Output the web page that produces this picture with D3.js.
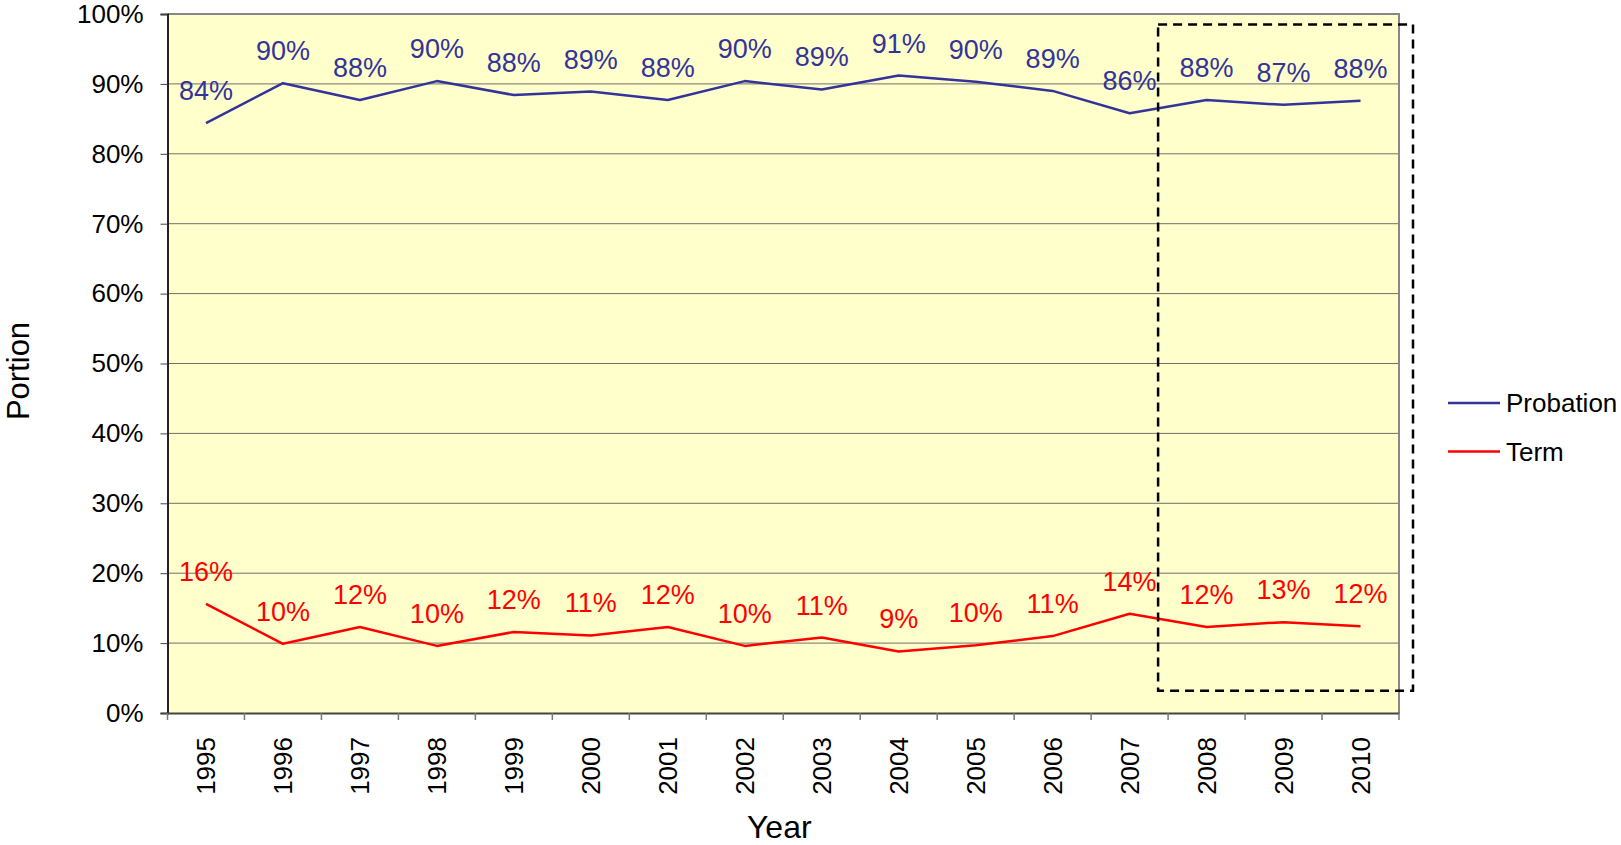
<!DOCTYPE html>
<html>
<head>
<meta charset="utf-8">
<script src="https://cdn.jsdelivr.net/npm/d3@7"></script>
<style>
  body { margin: 0; background: #fff; }
  svg text { font-family: "Liberation Sans", Arial, sans-serif; }
</style>
</head>
<body>
<svg id="chart" width="1621" height="845"></svg>
<script>
// values (percent)
var years = ['1995','1996','1997','1998','1999','2000','2001','2002','2003','2004','2005','2006','2007','2008','2009','2010']
var probation = [84.4, 90.1, 87.7, 90.4, 88.4, 88.9, 87.7, 90.4, 89.2, 91.2, 90.3, 89.0, 85.8, 87.7, 87.0, 87.6]
var term = [15.6, 9.9, 12.3, 9.6, 11.6, 11.1, 12.3, 9.6, 10.8, 8.8, 9.7, 11.0, 14.2, 12.3, 13.0, 12.4]
var yTicks = [0, 10, 20, 30, 40, 50, 60, 70, 80, 90, 100]
var seriesNames = ['Probation', 'Term']
var seriesColors = ['#333399', '#ff0000']

var margin = {left: 167.5, top: 14, right: 222, bottom: 132}
var width = 1621, height = 845

var svg = d3.select('#chart')

var x = d3.scaleBand().domain(years).range([margin.left, width - margin.right]).padding(0)
var y = d3.scaleLinear().domain([0, 100]).range([height - margin.bottom, margin.top])

// plot background
svg.append('rect')
  .attr('x', margin.left).attr('y', margin.top)
  .attr('width', width - margin.right - margin.left)
  .attr('height', height - margin.bottom - margin.top)
  .attr('fill', '#ffffcc')

// gridlines
svg.append('g').selectAll('line').data(yTicks.slice(1, -1)).join('line')
  .attr('x1', margin.left).attr('x2', width - margin.right)
  .attr('y1', function(d){ return y(d) }).attr('y2', function(d){ return y(d) })
  .attr('stroke', '#6f6f6f').attr('stroke-width', 1)

// plot border (top / right)
svg.append('path')
  .attr('d', 'M' + margin.left + ',' + y(100) + 'H' + (width - margin.right) + 'V' + y(0))
  .attr('fill', 'none').attr('stroke', '#888').attr('stroke-width', 2)

// y axis
var yAxis = svg.append('g').attr('transform', 'translate(' + margin.left + ',0)')
  .call(d3.axisLeft(y).tickValues(yTicks).tickSize(7).tickPadding(17).tickFormat(function(d){ return d + '%' }))
yAxis.select('.domain').attr('stroke', '#222').attr('stroke-width', 2)
yAxis.selectAll('.tick line').attr('stroke', '#444')
yAxis.selectAll('.tick text').attr('font-size', 26).attr('fill', '#000')
  .style('font-family', '"Liberation Sans", Arial, sans-serif')

// x axis labels
var xAxis = svg.append('g').attr('transform', 'translate(0,' + y(0) + ')')
  .call(d3.axisBottom(x).tickSize(0))
xAxis.select('.domain').attr('stroke', '#444').attr('stroke-width', 2)
xAxis.selectAll('.tick text')
  .attr('transform', 'rotate(-90)')
  .attr('x', -24).attr('y', 0).attr('dy', '0.35em')
  .attr('text-anchor', 'end')
  .attr('font-size', 26).attr('fill', '#000')
  .style('font-family', '"Liberation Sans", Arial, sans-serif')

// x tick marks at category boundaries
var bounds = years.map(function(d){ return x(d) }).concat([x(years[years.length - 1]) + x.bandwidth()])
svg.append('g').selectAll('line').data(bounds).join('line')
  .attr('x1', function(d){ return d }).attr('x2', function(d){ return d })
  .attr('y1', y(0)).attr('y2', y(0) + 7)
  .attr('stroke', '#777').attr('stroke-width', 1.5)

// lines and labels
var line = d3.line()
  .x(function(d, i){ return x(years[i]) + x.bandwidth() / 2 })
  .y(function(d){ return y(d) })

;[probation, term].forEach(function(vals, s){
  svg.append('path').datum(vals)
    .attr('d', line)
    .attr('fill', 'none')
    .attr('stroke', seriesColors[s])
    .attr('stroke-width', 2.5)
    .attr('stroke-linejoin', 'round')

  svg.append('g').selectAll('text').data(vals).join('text')
    .attr('x', function(d, i){ return x(years[i]) + x.bandwidth() / 2 })
    .attr('y', function(d){ return y(d) - 23 })
    .attr('text-anchor', 'middle')
    .attr('font-size', 27)
    .attr('fill', seriesColors[s])
    .text(function(d){ return Math.round(d) + '%' })
})

// dashed highlight box around 2008-2010
var boxLeft = x('2008') - 10
var boxRight = width - margin.right + 14
svg.append('rect')
  .attr('x', boxLeft).attr('y', y(98.5))
  .attr('width', boxRight - boxLeft)
  .attr('height', y(3.2) - y(98.5))
  .attr('fill', 'none')
  .attr('stroke', '#000')
  .attr('stroke-width', 2.5)
  .attr('stroke-dasharray', '9,6')

// axis titles
svg.append('text')
  .attr('x', (margin.left + width - margin.right) / 2 - 4)
  .attr('y', 838)
  .attr('text-anchor', 'middle')
  .attr('font-size', 32)
  .text('Year')

svg.append('text')
  .attr('transform', 'translate(29,371) rotate(-90)')
  .attr('text-anchor', 'middle')
  .attr('font-size', 31)
  .text('Portion')

// legend
var legend = svg.append('g').attr('transform', 'translate(1448,403)')
seriesNames.forEach(function(name, i){
  var g = legend.append('g').attr('transform', 'translate(0,' + (i * 48.5) + ')')
  g.append('line').attr('x1', 0).attr('x2', 52).attr('y1', 0).attr('y2', 0)
    .attr('stroke', seriesColors[i]).attr('stroke-width', 2.5)
  g.append('text').attr('x', 58).attr('y', 0).attr('dy', '0.35em')
    .attr('font-size', 26).text(name)
})
</script>
</body>
</html>
